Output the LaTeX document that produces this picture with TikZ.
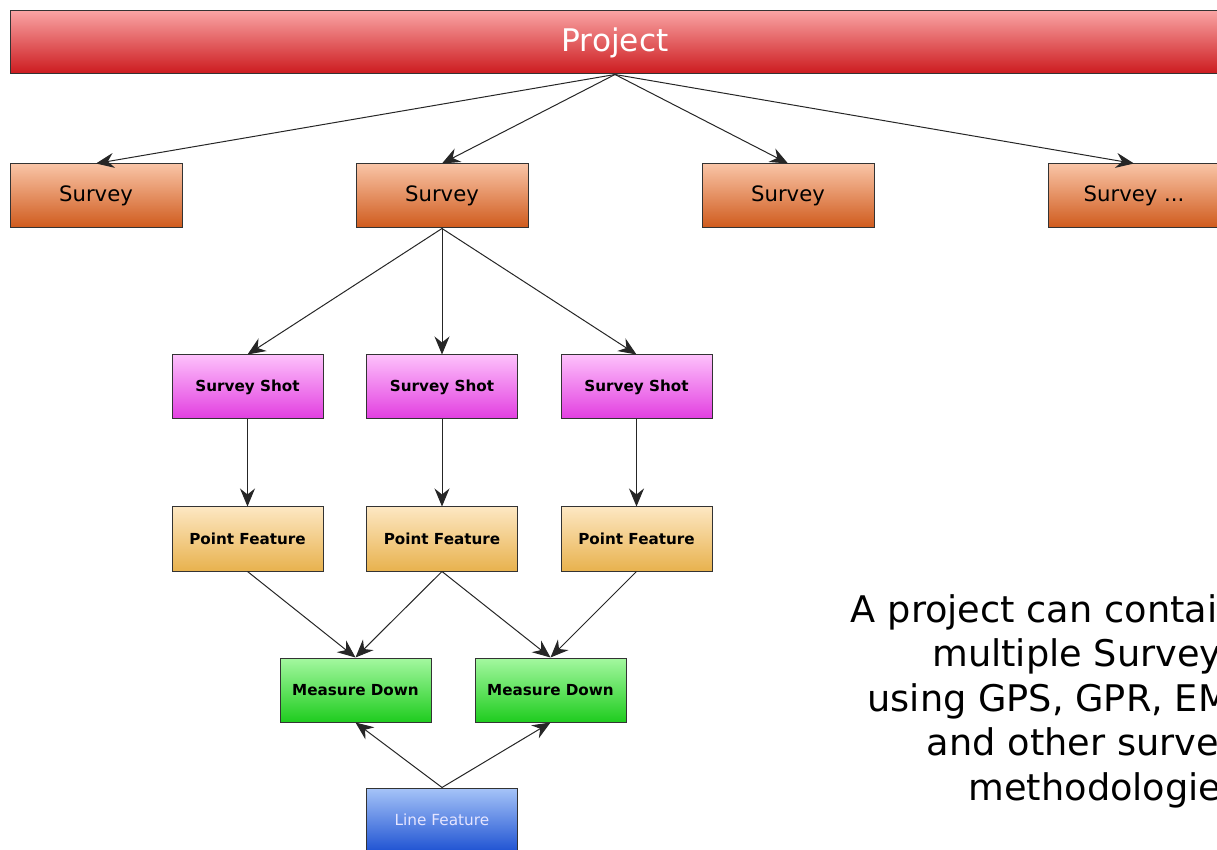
\documentclass[tikz,border=0pt]{standalone}
\usepackage{fontspec}
\setmainfont{DejaVu Sans}
\usepackage{tikz}
\usetikzlibrary{arrows.meta}
\definecolor{projtop}{HTML}{F9A3A3}
\definecolor{projbot}{HTML}{CC1A1E}
\definecolor{survtop}{HTML}{F9C4A6}
\definecolor{survbot}{HTML}{CF5A1C}
\definecolor{shottop}{HTML}{FDC0FB}
\definecolor{shotbot}{HTML}{E23EE0}
\definecolor{pointtop}{HTML}{FDE7C2}
\definecolor{pointbot}{HTML}{E8B24E}
\definecolor{meastop}{HTML}{A4F8A0}
\definecolor{measbot}{HTML}{1FCC1F}
\definecolor{linetop}{HTML}{A6C4F8}
\definecolor{linebot}{HTML}{1E52D2}
\tikzset{>={Stealth[length=9pt,width=7.5pt,inset=3pt]}}
\tikzstyle{box} = [rectangle, draw=black!80, line width=0.5pt, inner sep=0pt, minimum height=32pt]
\tikzstyle{project} = [box, top color=projtop, bottom color=projbot, minimum width=605pt, minimum height=31.5pt, text=white, font=\fontsize{15.6}{18}\selectfont]
\tikzstyle{survey} = [box, top color=survtop, bottom color=survbot, minimum width=86pt, font=\fontsize{10.6}{12}\selectfont]
\tikzstyle{small} = [box, minimum width=75.5pt, font=\fontsize{7.6}{9}\selectfont\bfseries]
\tikzstyle{shot} = [small, top color=shottop, bottom color=shotbot]
\tikzstyle{point} = [small, top color=pointtop, bottom color=pointbot]
\tikzstyle{measure} = [small, top color=meastop, bottom color=measbot]
\tikzstyle{linefeat} = [box, minimum width=75.5pt, top color=linetop, bottom color=linebot, text=white!90!blue, font=\fontsize{7.65}{9}\selectfont]
\tikzstyle{link} = [->, draw=black!85, line width=0.5pt]

\begin{document}
\begin{tikzpicture}[x=0.5pt, y=-0.5pt]
 \useasboundingbox (0,0) rectangle (1217,850);
 \clip (0,0) rectangle (1217,850);
 % top level
 \node [project] (P) at (615,42.5) {Project};
 \node [survey] (S1) at (96,196) {Survey};
 \node [survey] (S2) at (442,196) {Survey};
 \node [survey] (S3) at (788,196) {Survey};
 \node [survey] (S4) at (1134,196) {Survey ...};
 % shots and features
 \node [shot] (SH1) at (247.5,387) {Survey Shot};
 \node [shot] (SH2) at (442,387) {Survey Shot};
 \node [shot] (SH3) at (636.5,387) {Survey Shot};
 \node [point] (PF1) at (247.5,539) {Point Feature};
 \node [point] (PF2) at (442,539) {Point Feature};
 \node [point] (PF3) at (636.5,539) {Point Feature};
 \node [measure] (MD1) at (355.5,690) {Measure Down};
 \node [measure] (MD2) at (550.5,690) {Measure Down};
 \node [linefeat] (LF) at (442,820) {Line Feature};
 \node [anchor=base east, align=right, inner sep=0pt, font=\fontsize{18.35}{22.25}\selectfont] (T) at (1241,800)
  {A project can contain\\multiple Surveys\\using GPS, GPR, EMI\\and other survey\\methodologies};
 % connectors
 \draw [link] (P.south) to (S1.north);
 \draw [link] (P.south) to (S2.north);
 \draw [link] (P.south) to (S3.north);
 \draw [link] (P.south) to (S4.north);
 \draw [link] (S2.south) to (SH1.north);
 \draw [link] (S2.south) to (SH2.north);
 \draw [link] (S2.south) to (SH3.north);
 \draw [link] (SH1) to (PF1);
 \draw [link] (SH2) to (PF2);
 \draw [link] (SH3) to (PF3);
 \draw [link] (PF1.south) to (MD1.north);
 \draw [link] (PF2.south) to (MD1.north);
 \draw [link] (PF2.south) to (MD2.north);
 \draw [link] (PF3.south) to (MD2.north);
 \draw [link] (LF.north) to (MD1.south);
 \draw [link] (LF.north) to (MD2.south);
\end{tikzpicture}
\end{document}
